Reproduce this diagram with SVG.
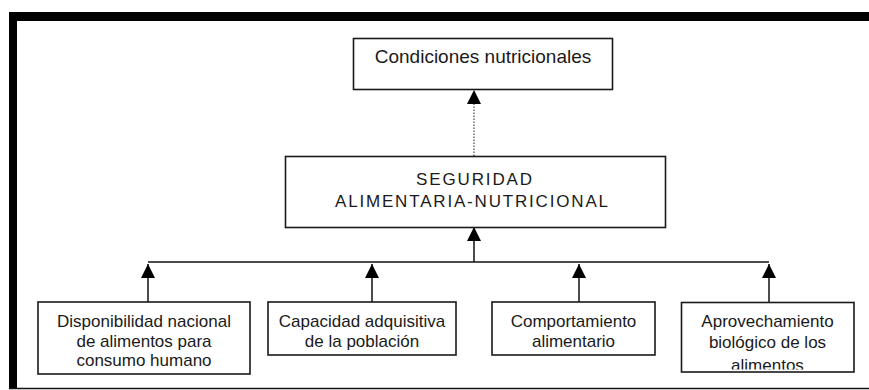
<svg xmlns="http://www.w3.org/2000/svg" width="869" height="390" viewBox="0 0 869 390">
<style>
.box{fill:#fff;stroke:#1a1a1a;stroke-width:1.6}
.t{font-family:"Liberation Sans",Arial,sans-serif;font-size:17px;fill:#1a1a1a;text-anchor:middle}
.tm{font-family:"Liberation Sans",Arial,sans-serif;font-size:17px;fill:#1a1a1a;text-anchor:middle}
.ln{stroke:#111;stroke-width:1.5;fill:none}
.dot{stroke:#444;stroke-width:1.2;stroke-dasharray:1.5 1.5;fill:none}
</style>
<defs>
<marker id="ah" viewBox="0 0 14 14" refX="14" refY="7" markerWidth="14" markerHeight="14" markerUnits="userSpaceOnUse" orient="auto">
<path d="M0,0 L14,7 L0,14 Z" fill="#000"/>
</marker>
<clipPath id="c4"><rect x="681" y="302" width="174" height="67.5"/></clipPath>
</defs>
<rect width="869" height="390" fill="#fff"/>
<g id="frame">
<rect x="9" y="12" width="860" height="9" fill="#000"/>
<rect x="9" y="12" width="8" height="377" fill="#000"/>
<line x1="9" y1="388.5" x2="869" y2="388.5" stroke="#111" stroke-width="1.5"/>
</g>
<g id="connectors">
<line class="dot" x1="474" y1="156" x2="474" y2="90" marker-end="url(#ah)"/>
<line class="ln" x1="474" y1="262" x2="474" y2="227" marker-end="url(#ah)"/>
<line class="ln" x1="148" y1="262" x2="769" y2="262"/>
<line class="ln" x1="148" y1="302" x2="148" y2="264" marker-end="url(#ah)"/>
<line class="ln" x1="372" y1="302" x2="372" y2="264" marker-end="url(#ah)"/>
<line class="ln" x1="579" y1="302" x2="579" y2="264" marker-end="url(#ah)"/>
<line class="ln" x1="769" y1="302" x2="769" y2="264" marker-end="url(#ah)"/>
</g>
<g id="n-condiciones">
<rect class="box" x="353.5" y="38.5" width="259" height="51"/>
<text class="t" x="483" y="63" style="font-size:19px">Condiciones nutricionales</text>
</g>
<g id="n-seguridad">
<rect class="box" x="285.5" y="156.5" width="380" height="71"/>
<text class="tm" x="474" y="185" textLength="116" lengthAdjust="spacing">SEGURIDAD</text>
<text class="tm" x="471.5" y="206.5" textLength="273" lengthAdjust="spacing">ALIMENTARIA-NUTRICIONAL</text>
</g>
<g id="n-disponibilidad">
<rect class="box" x="38" y="302" width="212" height="72"/>
<text class="t" x="144" y="326.5">Disponibilidad nacional</text>
<text class="t" x="144" y="346.5">de alimentos para</text>
<text class="t" x="144" y="366">consumo humano</text>
</g>
<g id="n-capacidad">
<rect class="box" x="268" y="302" width="188" height="53"/>
<text class="t" x="362" y="326.5">Capacidad adquisitiva</text>
<text class="t" x="362" y="346.5">de la población</text>
</g>
<g id="n-comportamiento">
<rect class="box" x="492" y="302" width="163" height="53"/>
<text class="t" x="573.5" y="326.5">Comportamiento</text>
<text class="t" x="573.5" y="346.5">alimentario</text>
</g>
<g id="n-aprovechamiento">
<rect class="box" x="681.5" y="302.5" width="172.5" height="69.5"/>
<g clip-path="url(#c4)">
<text class="t" x="767.5" y="326.5">Aprovechamiento</text>
<text class="t" x="767.5" y="347.5">biológico de los</text>
<text class="t" x="767.5" y="370.5">alimentos</text>
</g>
</g>
</svg>
